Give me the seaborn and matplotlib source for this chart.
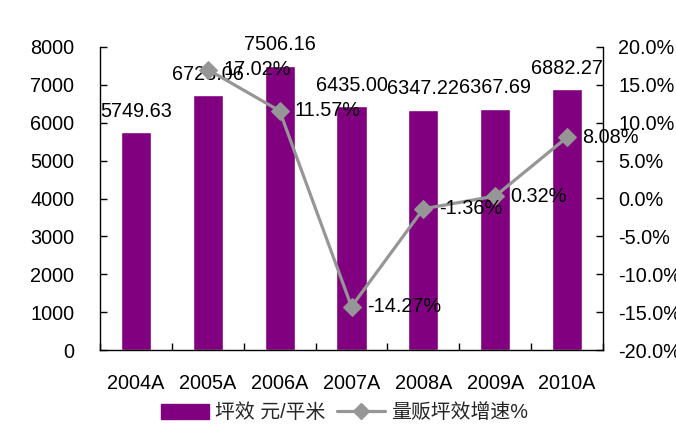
import matplotlib
matplotlib.use("Agg")
import matplotlib.pyplot as plt
import seaborn as sns
import pandas as pd
import numpy as np
from matplotlib.lines import Line2D
from matplotlib.patches import Patch

years = ["2004A", "2005A", "2006A", "2007A", "2008A", "2009A", "2010A"]
sales_per_sqm = [5749.63, 6728.06, 7506.16, 6435.00, 6347.22, 6367.69, 6882.27]
growth_years = ["2005A", "2006A", "2007A", "2008A", "2009A", "2010A"]
growth_pct = [17.02, 11.57, -14.27, -1.36, 0.32, 8.08]
left_ticks = [0, 1000, 2000, 3000, 4000, 5000, 6000, 7000, 8000]
right_ticks = [-20, -15, -10, -5, 0, 5, 10, 15, 20]
bar_label_text = "坪效 元/平米"
line_label_text = "量贩坪效增速%"

sns.set_theme(style="white")
plt.rcParams["font.family"] = ["Liberation Sans", "Noto Sans CJK SC", "DejaVu Sans"]

bar_color = "#800080"
line_color = "#969696"
fs = 14.3

fig = plt.figure(figsize=(6.76, 4.34), dpi=100)
ax = fig.add_axes([100 / 676, 1 - 350 / 434, 503 / 676, 303 / 434])

df_bar = pd.DataFrame({"year": years, "value": sales_per_sqm})
sns.barplot(data=df_bar, x="year", y="value", ax=ax, color=bar_color,
            saturation=1, width=0.42, order=years, errorbar=None)

ax2 = ax.twinx()
df_line = pd.DataFrame({"pos": [years.index(y) for y in growth_years],
                        "growth": growth_pct})
sns.lineplot(data=df_line, x="pos", y="growth", ax=ax2, color=line_color,
             linewidth=2.3, marker="D", markersize=9, markeredgecolor=line_color)

ax.set_xlim(-0.5, len(years) - 0.5)
ax.set_ylim(0, 8000)
ax2.set_ylim(-20, 20)
ax.set_yticks(left_ticks)
ax.set_yticklabels([str(t) for t in left_ticks])
ax2.set_yticks(right_ticks)
ax2.set_yticklabels([f"{t:.1f}%" for t in right_ticks])
ax.set_xlabel("")
ax.set_ylabel("")
ax2.set_xlabel("")
ax2.set_ylabel("")

for a in (ax, ax2):
    a.grid(False)
    a.spines["top"].set_visible(False)
    for s in ("left", "right", "bottom"):
        a.spines[s].set_color("black")
        a.spines[s].set_linewidth(1.0)
ax.spines["right"].set_visible(False)
ax2.spines["left"].set_visible(False)
ax2.spines["bottom"].set_visible(False)

ax.tick_params(axis="y", direction="in", length=5, width=1, color="black",
               labelsize=fs, pad=18.5, left=True, labelcolor="black")
ax2.tick_params(axis="y", direction="in", length=5, width=1, color="black",
                labelsize=fs, pad=11, right=True, labelcolor="black")
ax.tick_params(axis="x", which="major", length=0, labelsize=fs, pad=17,
               labelcolor="black")
ax.set_xticks(np.arange(-0.5, len(years), 1.0), minor=True)
ax.tick_params(axis="x", which="minor", direction="in", length=5, width=1,
               color="black", bottom=True)

for i, v in enumerate(sales_per_sqm):
    ax.annotate(f"{v:.2f}", xy=(i, v), xytext=(0, 15), textcoords="offset points",
                ha="center", va="center", fontsize=fs, color="black")

for y, g in zip(growth_years, growth_pct):
    ax2.annotate(f"{g:.2f}%", xy=(years.index(y), g), xytext=(11, 0),
                 textcoords="offset points", ha="left", va="center",
                 fontsize=fs, color="black")

handles = [Patch(facecolor=bar_color, edgecolor=bar_color),
           Line2D([0], [0], color=line_color, linewidth=2.3, marker="D",
                  markersize=8, markeredgecolor=line_color)]
fig.legend(handles, [bar_label_text, line_label_text], loc="center",
           bbox_to_anchor=(0.51, 1 - 413 / 434), ncol=2, frameon=False,
           fontsize=fs, handlelength=2.4, handleheight=0.8, handletextpad=0.3,
           columnspacing=0.6)

fig.savefig("out.png", dpi=100)
